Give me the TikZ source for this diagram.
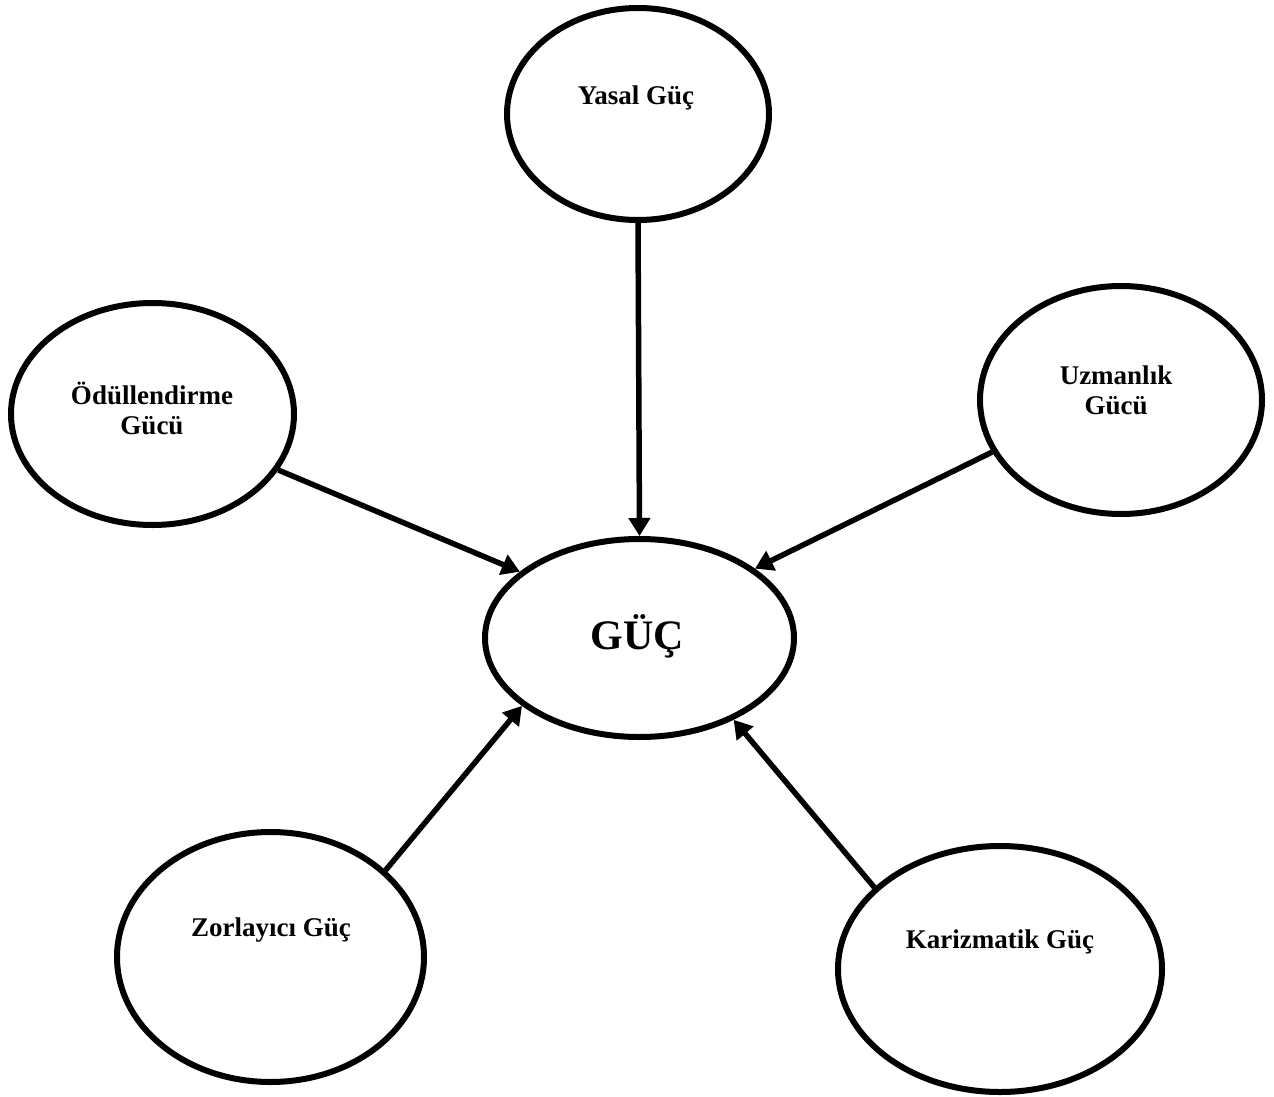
\documentclass[tikz,border=0pt]{standalone}
\usepackage{fontspec}
\setmainfont{Liberation Serif}
\usetikzlibrary{shapes.geometric,arrows.meta}
\tikzset{
  oval/.style={ellipse, draw=black, line width=6pt, inner sep=0pt, fill=white},
  lbl/.style={font=\fontsize{27}{30}\selectfont\bfseries, inner sep=0pt, anchor=base, align=center},
  big/.style={font=\fontsize{42}{46}\selectfont\bfseries, inner sep=0pt, anchor=base},
  conn/.style={line width=5.5pt, -{Triangle[length=18pt,width=21pt]}}
}
\begin{document}
\begin{tikzpicture}[x=1pt,y=-1pt]
\useasboundingbox (0,0) rectangle (1274,1097);
\fill[white] (0,0) rectangle (1274,1097);
% ellipses
\node[oval, minimum width=262pt, minimum height=212pt] (yasal) at (638,114) {};
\node[oval, minimum width=283pt, minimum height=222pt] (odul) at (152.5,414) {};
\node[oval, minimum width=282pt, minimum height=228pt] (uzman) at (1121,400) {};
\node[oval, minimum width=309pt, minimum height=198pt] (guc) at (639.5,638) {};
\node[oval, minimum width=307pt, minimum height=250pt] (zor) at (270.5,957) {};
\node[oval, minimum width=324pt, minimum height=246pt] (kariz) at (1000,969) {};
% texts
\node[lbl] (yasaltxt) at (636,105) {Yasal Güç};
\node[lbl] (odultxt) at (152,434) {Ödüllendirme\\Gücü};
\node[lbl] (uzmantxt) at (1116,414) {Uzmanlık\\Gücü};
\node[lbl] (zortxt) at (271,936) {Zorlayıcı Güç};
\node[lbl] (kariztxt) at (1000,948) {Karizmatik Güç};
\node[big] (guctxt) at (637,649) {GÜÇ};
% connectors
\draw[conn] (yasal.south) -- (guc.north);
\draw[conn] (odul.-24.8) -- (guc.151.6);
\draw[conn] (uzman.202.5) -- (guc.31.4);
\draw[conn] (zor.37) -- (guc.210);
\draw[conn] (kariz.147) -- (guc.-41.5);
\end{tikzpicture}
\end{document}
